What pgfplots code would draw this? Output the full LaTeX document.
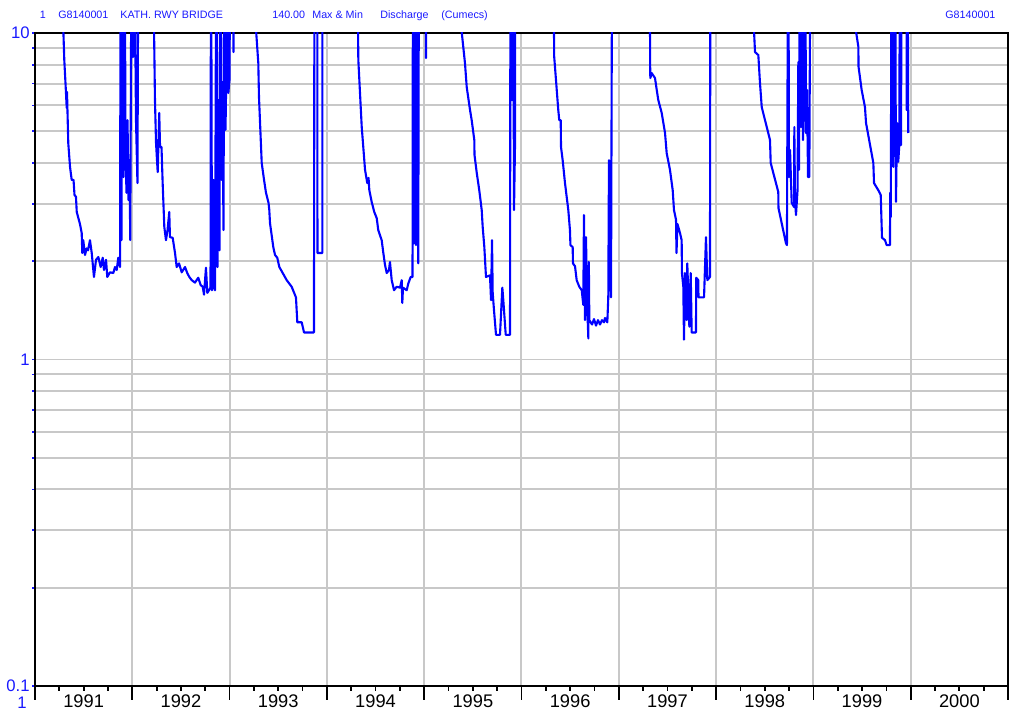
\documentclass[border=0pt]{standalone}
\usepackage{fontspec}
\setmainfont{Liberation Sans}
\usepackage{pgfplots}
\pgfplotsset{compat=1.18}

\definecolor{lineblue}{RGB}{0,0,255}
\definecolor{labelblue}{RGB}{25,25,255}
\definecolor{gridgray}{RGB}{200,200,200}

\begin{document}
\begin{tikzpicture}
\useasboundingbox (0,0) rectangle (20.2cm,14.26cm);

% header line
\begin{scope}[every node/.style={inner sep=0pt, anchor=base west, text=labelblue, font=\fontsize{6.1}{7}\selectfont}]
\node at (0.79cm,13.88cm) {1};
\node at (1.16cm,13.88cm) {G8140001};
\node at (2.40cm,13.88cm) {KATH. RWY BRIDGE};
\node at (5.44cm,13.88cm) {140.00};
\node at (6.24cm,13.88cm) {Max \& Min};
\node at (7.60cm,13.88cm) {Discharge};
\node at (8.82cm,13.88cm) {(Cumecs)};
\node at (18.90cm,13.88cm) {G8140001};
\end{scope}
\node[inner sep=0pt, anchor=north east, text=labelblue, font=\fontsize{9.5}{10}\selectfont] at (0.54cm,0.32cm) {1};

\begin{axis}[
    at={(0.7cm,0.54cm)}, anchor=south west,
    scale only axis, width=19.46cm, height=13.06cm,
    xmin=1991, xmax=2001,
    ymode=log, ymin=0.1, ymax=10,
    xtick={1991,1992,...,2001}, xticklabels={},
    x tick style={draw=none},
    ytick={0.1,1,10}, yticklabels={0.1,1,10},
    minor ytick={0.2,0.3,0.4,0.5,0.6,0.7,0.8,0.9,2,3,4,5,6,7,8,9},
    ytick pos=left,
    tick align=outside,
    major tick length=0.06cm, minor tick length=0.06cm,
    y tick style={labelblue, line width=1pt},
    xmajorgrids, ymajorgrids, yminorgrids,
    major grid style={gridgray, line width=1.1pt},
    minor grid style={gridgray, line width=1.1pt},
    axis line style={black, line width=1.1pt},
    yticklabel style={text=labelblue, font=\fontsize{9.5}{10}\selectfont, inner sep=0pt, xshift=-0.04cm},
]
\addplot[lineblue, line width=1.2pt, line join=round] coordinates {
% 1991
(1991.050,20) (1991.280,13) (1991.301,8.27) (1991.316,6.78) (1991.326,5.89) (1991.329,6.6)
(1991.342,4.60) (1991.360,3.89) (1991.377,3.55) (1991.396,3.55) (1991.406,3.19) (1991.421,3.15)
(1991.429,2.83) (1991.462,2.60) (1991.480,2.44) (1991.486,2.12) (1991.496,2.32) (1991.514,2.09)
(1991.531,2.19) (1991.545,2.16) (1991.565,2.32) (1991.583,2.12) (1991.606,1.79) (1991.627,2.02)
(1991.651,2.06) (1991.675,1.92) (1991.696,2.05) (1991.709,1.88) (1991.730,2.02) (1991.743,1.79)
(1991.771,1.85) (1991.805,1.84) (1991.822,1.92) (1991.840,1.88) (1991.856,2.05) (1991.874,1.92)
(1991.881,30) (1991.889,2.32) (1991.899,30) (1991.910,3.62) (1991.920,30) (1991.930,4.70)
(1991.940,3.24) (1991.951,5.41) (1991.961,3.08) (1991.971,4.08) (1991.979,2.32) (1991.994,30)
(1992.007,8.44) (1992.017,30) (1992.038,5.41) (1992.053,3.47) (1992.064,30)
% 1992
(1992.182,20) (1992.223,10.5) (1992.233,6.23) (1992.244,4.60) (1992.261,3.75) (1992.277,5.69)
(1992.285,4.48) (1992.300,4.48) (1992.312,3.47) (1992.329,2.55) (1992.346,2.32) (1992.362,2.49)
(1992.380,2.83) (1992.387,2.37) (1992.415,2.36) (1992.439,2.12) (1992.456,1.92) (1992.480,1.97)
(1992.508,1.85) (1992.542,1.92) (1992.565,1.84) (1992.586,1.79) (1992.611,1.75) (1992.644,1.72)
(1992.678,1.78) (1992.703,1.69) (1992.724,1.67) (1992.737,1.58) (1992.757,1.91) (1992.771,1.60)
(1992.788,1.63) (1992.804,1.66) (1992.809,30) (1992.819,1.63) (1992.829,1.67) (1992.835,3.55)
(1992.850,1.63) (1992.865,30) (1992.876,1.92) (1992.886,6.23) (1992.896,2.16) (1992.906,30)
(1992.917,3.55) (1992.927,7.07) (1992.937,2.49) (1992.948,30) (1992.958,5.05) (1992.968,8.27)
(1992.978,30) (1992.987,6.55) (1992.999,7.18) (1993.009,30) (1993.036,30) (1993.040,8.74) (1993.044,30)
% 1993
(1993.210,20) (1993.271,10.3) (1993.295,8.09) (1993.302,6.37) (1993.330,4.00) (1993.354,3.55)
(1993.374,3.24) (1993.400,3.02) (1993.408,2.87) (1993.415,2.62) (1993.449,2.21) (1993.467,2.09)
(1993.490,2.05) (1993.511,1.92) (1993.546,1.84) (1993.587,1.75) (1993.638,1.67) (1993.682,1.55)
(1993.696,1.30) (1993.741,1.30) (1993.765,1.21) (1993.867,1.21) (1993.873,30) (1993.901,30)
(1993.903,2.12) (1993.953,2.12) (1993.955,30)
% 1994
(1994.186,20) (1994.320,10.2) (1994.323,8.27) (1994.358,5.15) (1994.392,3.81) (1994.415,3.47)
(1994.428,3.60) (1994.436,3.30) (1994.460,3.04) (1994.487,2.83) (1994.512,2.71) (1994.528,2.49)
(1994.563,2.32) (1994.580,2.12) (1994.597,1.95) (1994.615,1.84) (1994.638,1.88) (1994.648,1.99)
(1994.666,1.75) (1994.690,1.63) (1994.717,1.67) (1994.751,1.66) (1994.769,1.75) (1994.775,1.49)
(1994.782,1.66) (1994.820,1.63) (1994.837,1.71) (1994.861,1.79) (1994.880,1.79) (1994.885,30)
(1994.895,2.27) (1994.906,30) (1994.916,2.24) (1994.926,30) (1994.939,1.97) (1994.947,30)
(1995.016,30) (1995.018,8.38) (1995.020,30)
% 1995
(1995.265,20) (1995.385,10.1) (1995.419,8.09) (1995.437,6.83) (1995.471,5.81) (1995.488,5.41)
(1995.515,4.70) (1995.517,4.23) (1995.540,3.73) (1995.566,3.30) (1995.591,2.87) (1995.601,2.55)
(1995.618,2.21) (1995.635,1.79) (1995.676,1.81) (1995.687,1.52) (1995.697,2.32) (1995.704,1.60)
(1995.717,1.42) (1995.738,1.19) (1995.779,1.19) (1995.803,1.66) (1995.813,1.52) (1995.838,1.19)
(1995.882,1.19) (1995.887,30) (1995.902,6.23) (1995.913,30) (1995.923,2.87) (1995.933,4.48) (1995.938,30)
% 1996
(1996.190,20) (1996.334,10.1) (1996.336,8.46) (1996.378,5.81) (1996.388,5.41) (1996.403,5.41)
(1996.406,4.48) (1996.423,4.08) (1996.447,3.47) (1996.481,2.87) (1996.498,2.49) (1996.503,2.24)
(1996.526,2.21) (1996.529,1.97) (1996.550,1.93) (1996.567,1.75) (1996.594,1.67) (1996.619,1.63)
(1996.635,1.47) (1996.642,2.77) (1996.653,1.32) (1996.663,2.37) (1996.673,1.52) (1996.687,1.16)
(1996.692,1.99) (1996.697,1.32) (1996.725,1.28) (1996.745,1.33) (1996.766,1.27) (1996.786,1.32)
(1996.807,1.28) (1996.827,1.32) (1996.848,1.30) (1996.858,1.34) (1996.882,1.30) (1996.892,1.55)
(1996.899,4.08) (1996.906,1.63) (1996.912,3.70) (1996.920,1.55) (1996.933,30)
% 1997
(1997.218,20) (1997.321,10.1) (1997.322,8.09) (1997.324,7.28) (1997.338,7.54) (1997.372,7.28)
(1997.390,6.69) (1997.406,6.23) (1997.441,5.69) (1997.475,4.94) (1997.492,4.29) (1997.526,3.81)
(1997.554,3.30) (1997.567,2.87) (1997.588,2.68) (1997.593,2.12) (1997.603,2.60) (1997.629,2.44)
(1997.646,2.32) (1997.649,1.84) (1997.663,1.67) (1997.670,1.15) (1997.680,1.84) (1997.698,1.32)
(1997.704,1.97) (1997.725,1.26) (1997.739,1.84) (1997.749,1.21) (1997.793,1.21) (1997.796,1.78)
(1997.817,1.75) (1997.819,1.55) (1997.876,1.55) (1997.896,2.37) (1997.910,1.75) (1997.937,1.79) (1997.942,30)
% 1998
(1998.246,20) (1998.390,10.1) (1998.400,8.74) (1998.434,8.56) (1998.451,7.03) (1998.469,5.93)
(1998.554,4.70) (1998.561,4.00) (1998.639,3.26) (1998.641,2.91) (1998.718,2.27) (1998.728,2.24)
(1998.742,30) (1998.749,3.62) (1998.760,4.38) (1998.777,3.02) (1998.801,2.93) (1998.804,5.15)
(1998.811,3.08) (1998.821,2.77) (1998.837,3.30) (1998.845,8.15) (1998.852,3.81) (1998.862,30)
(1998.873,5.15) (1998.883,30) (1998.893,4.70) (1998.903,6.23) (1998.914,30) (1998.924,4.94)
(1998.934,6.69) (1998.945,3.62) (1998.958,3.62) (1998.972,30)
% 1999
(1999.325,20) (1999.438,10.1) (1999.462,9.08) (1999.464,7.88) (1999.496,6.69) (1999.530,5.93)
(1999.541,5.30) (1999.616,4.00) (1999.623,3.47) (1999.667,3.30) (1999.692,3.19) (1999.705,2.36)
(1999.736,2.32) (1999.753,2.24) (1999.787,2.24) (1999.789,3.24) (1999.795,2.73) (1999.805,30)
(1999.821,3.89) (1999.828,5.30) (1999.838,30) (1999.849,3.04) (1999.859,5.30) (1999.872,4.03)
(1999.883,4.54) (1999.890,30) (1999.900,4.54) (1999.910,30) (1999.956,30) (1999.958,5.81)
(1999.966,30) (1999.975,4.94)
};
\end{axis}

% bottom axis ticks (years counted from 1991): short at quarters
\begin{axis}[
    at={(0.7cm,0.54cm)}, anchor=south west,
    scale only axis, width=19.46cm, height=13.06cm,
    xmin=0, xmax=10, ymin=0, ymax=1,
    axis x line*=bottom, hide y axis,
    xtick={0,1,2,3,4,5,6,7,8,9,10}, xticklabels={},
    minor x tick num=3,
    tick align=outside,
    major tick length=0.28cm, minor tick length=0.1cm,
    every tick/.style={black, line width=1pt},
    axis line style={black, line width=1.1pt},
]
\addplot[draw=none, forget plot] coordinates {(0,0) (10,1)};
\end{axis}

% year labels
\begin{axis}[
    at={(0.7cm,0.54cm)}, anchor=south west,
    scale only axis, width=19.46cm, height=13.06cm,
    xmin=0, xmax=10, ymin=0, ymax=1,
    axis x line*=bottom, hide y axis,
    axis line style={draw=none},
    xtick={0.5,1.5,2.5,3.5,4.5,5.5,6.5,7.5,8.5,9.5},
    xticklabels={1991,1992,1993,1994,1995,1996,1997,1998,1999,2000},
    tick align=outside,
    major tick length=0.1cm,
    every tick/.style={draw=none},
    xticklabel style={font=\fontsize{10.4}{11}\selectfont, text=black, yshift=0.04cm},
]
\addplot[draw=none, forget plot] coordinates {(0,0) (10,1)};
\end{axis}

% long tick marks at the year boundaries, below the axis line
\foreach \k in {0,1,2,3,4,5,6,7,8,9,10} {
  \draw[black, line width=1pt] ({0.7cm+\k*1.946cm},0.54cm) -- ({0.7cm+\k*1.946cm},0.26cm);
}
\end{tikzpicture}
\end{document}
